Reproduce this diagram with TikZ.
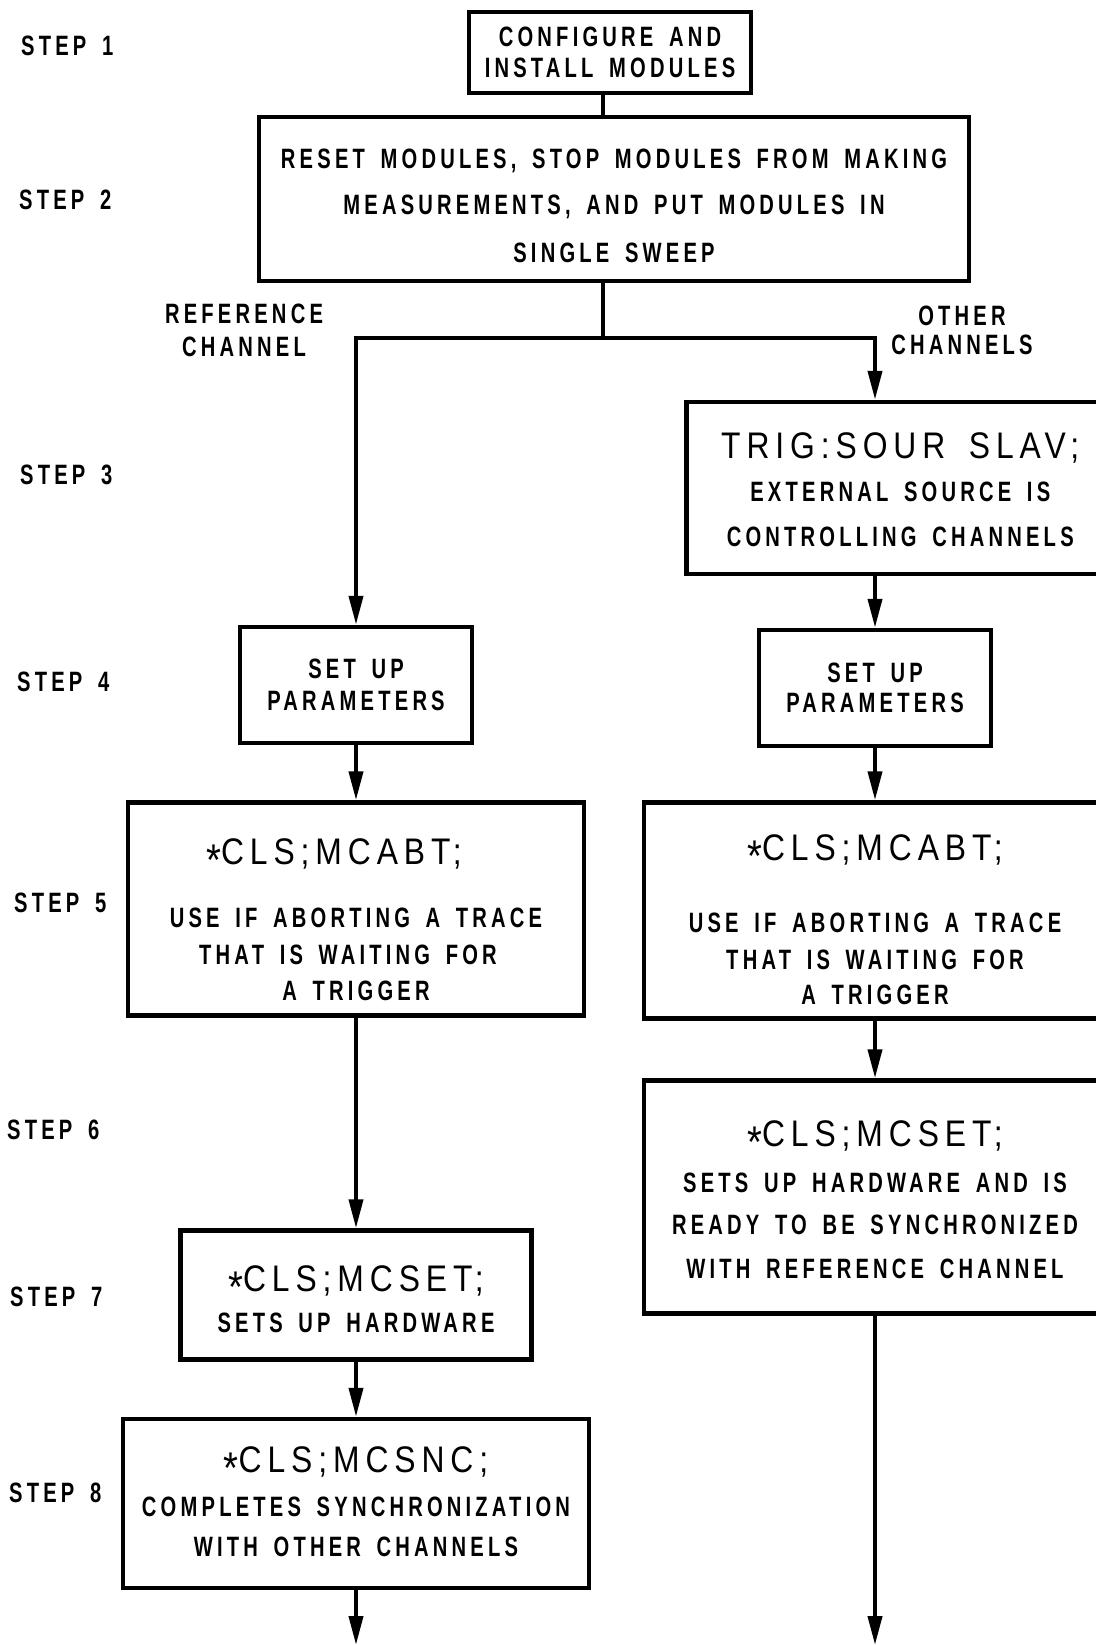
\documentclass[tikz,border=0pt]{standalone}
\usepackage{fontspec}
\usetikzlibrary{arrows.meta}
\newfontfamily\labfont[FakeStretch=0.72,LetterSpace=15,WordSpace=1.6]{Liberation Sans}
\newfontfamily\cmdfont[FakeStretch=0.86,LetterSpace=16,WordSpace=1.6]{Liberation Sans}
\newcommand\steptext{\labfont\bfseries\fontsize{28}{36}\selectfont}
\newcommand\cmdtext[1]{{\cmdfont\mdseries\fontsize{37}{40}\selectfont #1}}
\newcommand\lowstar{\raisebox{-0.3em}{\scalebox{1.2}{*}}}
\newcommand\topstrut[1]{\rule{0pt}{#1pt}}
\begin{document}
\begin{tikzpicture}[x=1pt,y=-1pt,
	box/.style={draw, line width=4.5pt, inner sep=0pt, align=center, font=\steptext},
	conn/.style={line width=4pt, line cap=rect},
	arr/.style={line width=4pt, -{Triangle[length=29pt,width=14pt]}},
	steplabel/.style={anchor=west, inner sep=0pt, font=\steptext}]
	\useasboundingbox (0,0) rectangle (1095,1645);
	\node[box, minimum width=282, minimum height=81] (cfg) at (610,52.5) {CONFIGURE AND\\[-4.5pt]INSTALL MODULES};
	\node[box, minimum width=710, minimum height=164] (reset) at (614,199) {\topstrut{33}RESET MODULES, STOP MODULES FROM MAKING\\[10pt]MEASUREMENTS, AND PUT MODULES IN\\[12pt]SINGLE SWEEP};
	\node[box, anchor=west, minimum width=428, minimum height=172] (trig) at (684,488) {\topstrut{30}\cmdtext{TRIG:SOUR SLAV;}\\[7pt]EXTERNAL SOURCE IS\\[9pt]CONTROLLING CHANNELS};
	\node[box, minimum width=232, minimum height=116] (parL) at (356,685) {SET UP\\[-4.5pt]PARAMETERS};
	\node[box, minimum width=232, minimum height=116] (parR) at (875,688) {SET UP\\[-5.5pt]PARAMETERS};
	\node[box, minimum width=456, minimum height=213] (abtL) at (356,909) {\topstrut{47}\hspace*{-44pt}\cmdtext{\lowstar CLS;MCABT;}\\[27pt]USE IF ABORTING A TRACE\\[1pt]\hspace*{-16pt}THAT IS WAITING FOR\\A TRIGGER};
	\node[box, minimum width=462, minimum height=216] (abtR) at (875,910.5) {\topstrut{44}\cmdtext{\lowstar CLS;MCABT;}\\[36.5pt]USE IF ABORTING A TRACE\\[1pt]THAT IS WAITING FOR\\[-1.5pt]A TRIGGER};
	\node[box, minimum width=462, minimum height=233] (setR) at (875,1197) {\topstrut{32}\cmdtext{\lowstar CLS;MCSET;}\\[10pt]SETS UP HARDWARE AND IS\\[6pt]READY TO BE SYNCHRONIZED\\[8pt]WITH REFERENCE CHANNEL};
	\node[box, minimum width=351, minimum height=129] (setL) at (356,1295) {\topstrut{34.5}\cmdtext{\lowstar CLS;MCSET;}\\[5pt]SETS UP HARDWARE};
	\node[box, minimum width=466, minimum height=169] (sncL) at (356,1503.5) {\cmdtext{\lowstar CLS;MCSNC;}\\[8pt]COMPLETES SYNCHRONIZATION\\[4pt]WITH OTHER CHANNELS\rule[-4pt]{0pt}{4pt}};
	\node[align=center, inner sep=0pt, font=\steptext] (reflabel) at (244,330.4) {REFERENCE\\[-2.4pt]CHANNEL};
	\node[align=center, inner sep=0pt, font=\steptext] (othlabel) at (962,330.4) {OTHER\\[-6.6pt]CHANNELS};
	\node[steplabel] (step1) at (21,46) {STEP 1};
	\node[steplabel] (step2) at (19,200) {STEP 2};
	\node[steplabel] (step3) at (20,475) {STEP 3};
	\node[steplabel] (step4) at (17,682) {STEP 4};
	\node[steplabel] (step5) at (14,903) {STEP 5};
	\node[steplabel] (step6) at (7,1130) {STEP 6};
	\node[steplabel] (step7) at (10,1297) {STEP 7};
	\node[steplabel] (step8) at (9,1493) {STEP 8};
	\coordinate (split) at (603,338);
	\coordinate (refturn) at (356,338);
	\coordinate (othturn) at (875,338);
	\coordinate (endL) at (356,1645);
	\coordinate (endR) at (875,1645);
	\draw[conn] (cfg.south -| split) -- (reset.north -| split);
	\draw[conn] (reset.south -| split) -- (split);
	\draw[conn] (refturn) -- (othturn);
	\draw[arr] (refturn) -- (parL.north);
	\draw[arr] (othturn) -- (othturn |- trig.north);
	\draw[arr] (othturn |- trig.south) -- (parR.north);
	\draw[arr] (parR.south) -- (abtR.north);
	\draw[arr] (abtR.south) -- (setR.north);
	\draw[arr] (setR.south) -- (endR);
	\draw[arr] (parL.south) -- (abtL.north);
	\draw[arr] (abtL.south) -- (setL.north);
	\draw[arr] (setL.south) -- (sncL.north);
	\draw[arr] (sncL.south) -- (endL);
\end{tikzpicture}
\end{document}
